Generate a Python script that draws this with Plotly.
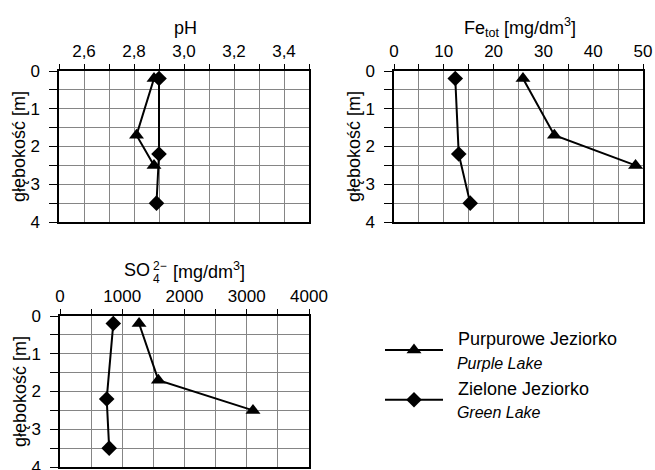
import plotly.graph_objects as go

W, H = 655, 470

# ---- data ----
depth_purple = [0.2, 1.7, 2.5]
depth_green = [0.2, 2.2, 3.5]

ph_purple = [2.88, 2.81, 2.88]
ph_green = [2.90, 2.90, 2.89]

fe_purple = [25.9, 32.2, 48.5]
fe_green = [12.3, 13.0, 15.3]

so4_purple = [1270, 1580, 3100]
so4_green = [856, 750, 790]

ph_ticks = [2.6, 2.8, 3.0, 3.2, 3.4]
ph_ticktext = ["2,6", "2,8", "3,0", "3,2", "3,4"]
fe_ticks = [0, 10, 20, 30, 40, 50]
so4_ticks = [0, 1000, 2000, 3000, 4000]
depth_ticks = [0, 1, 2, 3, 4]

NB = "\u00a0\u00a0"
name_purple = NB + "Purpurowe Jeziorko<br><span style='font-size:16px'><i>" + NB + "Purple Lake</i></span>"
name_green = NB + "Zielone Jeziorko<br><span style='font-size:16px'><i>" + NB + "Green Lake</i></span>"

FONT = "Liberation Sans, Arial, sans-serif"
GRID = "#858585"
TICK_SIZE = 17


def px(x):
    return x / W


def py(y):
    return 1 - y / H


fig = go.Figure()

panels = [
    ("x", "y", ph_purple, ph_green, True),
    ("x2", "y2", fe_purple, fe_green, False),
    ("x3", "y3", so4_purple, so4_green, False),
]
for xa, ya, vp, vg, show in panels:
    fig.add_trace(go.Scatter(
        x=vp, y=depth_purple, xaxis=xa, yaxis=ya, mode="lines+markers",
        name=name_purple, showlegend=show, legendgroup="p",
        line=dict(color="black", width=2),
        marker=dict(symbol="triangle-up", size=13, color="black")))
    fig.add_trace(go.Scatter(
        x=vg, y=depth_green, xaxis=xa, yaxis=ya, mode="lines+markers",
        name=name_green, showlegend=show, legendgroup="g",
        line=dict(color="black", width=2),
        marker=dict(symbol="diamond", size=12, color="black")))


def xaxis(domain, rng, tickvals, ticktext, minor_dtick, anchor):
    return dict(
        domain=domain, range=rng, side="top", anchor=anchor,
        tickmode="array", tickvals=tickvals, ticktext=ticktext,
        ticks="outside", ticklen=5, tickcolor="black", tickwidth=1,
        showgrid=True, gridcolor=GRID, gridwidth=1,
        minor=dict(dtick=minor_dtick, tick0=rng[0], ticks="outside", ticklen=5,
                   tickcolor="black", showgrid=True, gridcolor=GRID, gridwidth=1),
        showline=True, linecolor="black", linewidth=1.5, mirror=True,
        zeroline=False, tickfont=dict(size=TICK_SIZE, color="black", family=FONT),
        ticklabelstandoff=0, automargin=False, ticklabeloverflow="allow",
    )


def yaxis(domain, anchor):
    return dict(
        domain=domain, range=[4, 0], anchor=anchor,
        tickmode="array", tickvals=depth_ticks,
        ticks="outside", ticklen=8, tickcolor="black", tickwidth=1,
        showgrid=True, gridcolor=GRID, gridwidth=1,
        minor=dict(dtick=0.5, tick0=0, ticks="outside", ticklen=8,
                   tickcolor="black", showgrid=True, gridcolor=GRID, gridwidth=1),
        showline=True, linecolor="black", linewidth=1.5, mirror=True,
        zeroline=False, tickfont=dict(size=TICK_SIZE, color="black", family=FONT),
        ticklabelstandoff=6, automargin=False, ticklabeloverflow="allow",
        title=dict(text="głębokość [m]", font=dict(size=18, color="black", family=FONT),
                   standoff=0),
    )


top_y = [py(222), py(71)]
bot_y = [py(467), py(316)]

fig.update_layout(
    width=W, height=H,
    margin=dict(l=0, r=0, t=0, b=0, pad=0, autoexpand=False),
    paper_bgcolor="white", plot_bgcolor="white",
    font=dict(family=FONT, color="black", size=17),
    xaxis=xaxis([px(59), px(309)], [2.5, 3.5], ph_ticks, ph_ticktext, 0.1, "y"),
    yaxis=yaxis(top_y, "x"),
    xaxis2=xaxis([px(394), px(643)], [0, 50], fe_ticks, [str(v) for v in fe_ticks], 5, "y2"),
    yaxis2=yaxis(top_y, "x2"),
    xaxis3=xaxis([px(60), px(309)], [0, 4000], so4_ticks, [str(v) for v in so4_ticks], 500, "y3"),
    yaxis3=yaxis(bot_y, "x3"),
    showlegend=True,
    legend=dict(
        x=px(380), y=py(320), xanchor="left", yanchor="top",
        font=dict(size=18, color="black", family=FONT),
        bgcolor="rgba(0,0,0,0)", tracegroupgap=0, itemwidth=58,
        valign="middle",
    ),
)

ann_font = dict(family=FONT, size=18, color="black")
small_font = dict(family=FONT, size=12, color="black")
annotations = [
    dict(text="pH", x=px(185), y=py(28), xref="paper", yref="paper",
         xanchor="center", yanchor="middle", showarrow=False, font=ann_font),
    dict(text="Fe<sub>tot</sub> [mg/dm<sup>3</sup>]", x=px(520), y=py(28),
         xref="paper", yref="paper", xanchor="center", yanchor="middle",
         showarrow=False, font=ann_font),
    dict(text="SO", x=px(152), y=py(270), xref="paper", yref="paper",
         xanchor="right", yanchor="middle", showarrow=False, font=ann_font),
    dict(text="2−", x=px(151), y=py(266), xref="paper", yref="paper",
         xanchor="left", yanchor="middle", showarrow=False, font=small_font),
    dict(text="4", x=px(151), y=py(279), xref="paper", yref="paper",
         xanchor="left", yanchor="middle", showarrow=False, font=small_font),
    dict(text="[mg/dm<sup>3</sup>]", x=px(171), y=py(270), xref="paper", yref="paper",
         xanchor="left", yanchor="middle", showarrow=False, font=ann_font),
]
fig.update_layout(annotations=annotations)

fig.write_html("out.html")
